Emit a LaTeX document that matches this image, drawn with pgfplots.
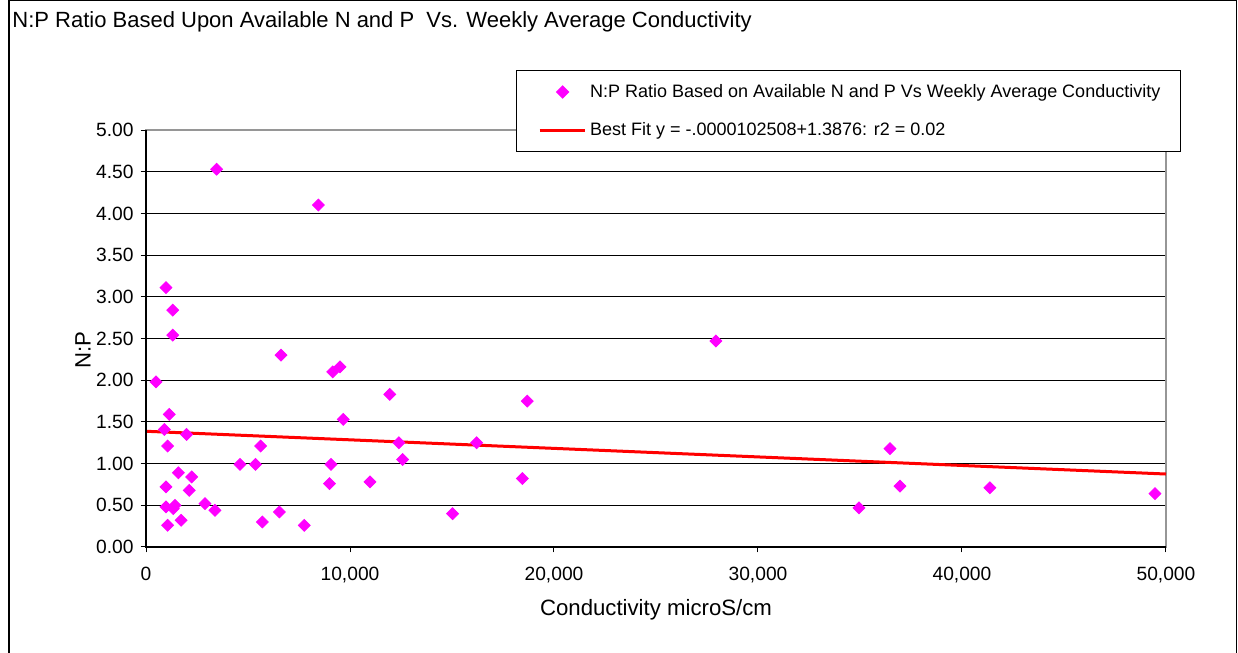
\documentclass[border=0pt]{standalone}
\usepackage{fontspec}
\setmainfont{Liberation Sans}
\usepackage{pgfplots}
\pgfplotsset{compat=1.18}

\definecolor{ptmag}{RGB}{255,0,255}
\definecolor{boxgray}{RGB}{150,150,150}

\begin{document}
\begin{tikzpicture}
  % page = 1238 x 653 px at 0.5pt per px
  \useasboundingbox (0,0) rectangle (619pt,326.5pt);
  \draw[line width=0.6pt] (4.5pt,0) -- (4.5pt,326.2pt) -- (618.4pt,326.2pt) -- (618.4pt,0);
  \node[anchor=west, font=\fontsize{11}{13}\selectfont, inner sep=0pt] at (6pt,315.5pt)
    {N:P Ratio Based Upon Available N and P\ \ Vs. Weekly Average Conductivity};

  \begin{axis}[
    at={(73pt,53pt)}, anchor=south west,
    scale only axis,
    width=510pt, height=208.5pt,
    xmin=0, xmax=50000, ymin=0, ymax=5,
    xtick={0,10000,20000,30000,40000,50000},
    ytick={0,0.5,...,5},
    scaled x ticks=false,
    xticklabel style={yshift=-4pt, /pgf/number format/.cd, fixed, 1000 sep={,}},
    yticklabel style={/pgf/number format/.cd, fixed, fixed zerofill, precision=2},
    /pgf/number format/assume math mode=true,
    tick label style={font=\fontsize{9.6}{11}\selectfont},
    xtick pos=bottom, ytick pos=left,
    tick align=outside,
    major tick length=2.7pt,
    tick style={black, line width=0.5pt},
    ymajorgrids,
    grid style={black, line width=0.5pt},
    axis line style={boxgray, line width=0.6pt},
    xlabel={Conductivity microS/cm},
    ylabel={N:P},
    every axis x label/.style={at={(axis description cs:0.5,-0.151)}, anchor=center,
      font=\fontsize{11.1}{13}\selectfont},
    every axis y label/.style={at={(axis description cs:-0.0618,0.472)}, rotate=90, anchor=center,
      font=\fontsize{11.1}{13}\selectfont},
    legend cell align=left,
    legend style={
      at={(axis description cs:1.0147,1.1439)}, anchor=north east,
      draw=black, line width=0.6pt,
      font=\fontsize{9}{10}\selectfont,
      inner xsep=8pt, inner ysep=4.7pt,
      row sep=7pt,
    },
    clip=false,
  ]
    \addplot[only marks, mark=square*, mark size=2.1pt,
      mark options={rotate=45, fill=ptmag, draw=ptmag},
      legend image code/.code={\draw[mark=square*, mark size=2.1pt, mark options={rotate=45, fill=ptmag, draw=ptmag}] plot coordinates {(14.2pt,0pt)};\path (0pt,0pt) (25.2pt,0pt);}]
      coordinates {
      (3460,4.53) (8450,4.10) (980,3.11) (1310,2.84) (1310,2.54)
      (6620,2.30) (9150,2.10) (9510,2.16) (490,1.98) (11950,1.83)
      (1140,1.59) (9670,1.53) (900,1.41) (1990,1.35) (1060,1.21)
      (5620,1.21) (4610,0.99) (5370,0.99) (9070,0.99) (1590,0.89)
      (2240,0.84) (980,0.72) (2120,0.68) (8990,0.76) (10980,0.78)
      (980,0.48) (1340,0.46) (1420,0.50) (2890,0.52) (3380,0.44)
      (1720,0.32) (1060,0.26) (5700,0.30) (6540,0.42) (7760,0.26)
      (18690,1.75) (12400,1.25) (16210,1.25) (12580,1.05) (18450,0.82)
      (15030,0.40) (27940,2.47) (36470,1.18) (36960,0.73) (41370,0.71)
      (34950,0.47) (49460,0.64)
    };
    \addlegendentry{N:P Ratio Based on Available N and P Vs Weekly Average Conductivity}
    \addplot[red, line width=1.5pt, no marks,
      legend image code/.code={\draw[red, line width=1.5pt] (2.7pt,0pt) -- (25.2pt,0pt);\path (0pt,0pt);}]
      coordinates {(0,1.3876) (50000,0.8751)};
    \addlegendentry{Best Fit y = -.0000102508+1.3876: r2 = 0.02}
    % left and bottom axis lines drawn black over the grey box
    \draw[black, line width=0.6pt] (rel axis cs:0,1) -- (rel axis cs:0,0) -- (rel axis cs:1,0);
  \end{axis}
\end{tikzpicture}
\end{document}
